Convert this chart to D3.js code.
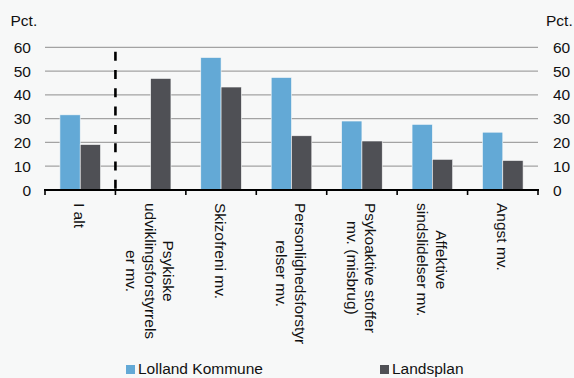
<!DOCTYPE html>
<html><head><meta charset="utf-8">
<script src="https://cdn.jsdelivr.net/npm/d3@7"></script>
<style>
html,body{margin:0;padding:0;background:#F7F8F8;}
svg{display:block;font-family:"Liberation Sans",Arial,sans-serif;}
</style></head>
<body>
<svg id="c" width="574" height="378"></svg>
<script>
const categories = [
  ["I alt"],
  ["Psykiske","udviklingsforstyrrels","er mv."],
  ["Skizofreni mv."],
  ["Personlighedsforstyr","relser mv."],
  ["Psykoaktive stoffer","mv. (misbrug)"],
  ["Affektive","sindslidelser mv."],
  ["Angst mv."]
];
const lolland = [31.6, null, 55.7, 47.3, 29.0, 27.6, 24.3];
const landsplan = [19.1, 46.9, 43.3, 22.8, 20.6, 12.9, 12.4];
const yTicks = [0, 10, 20, 30, 40, 50, 60];
const seriesNames = ["Lolland Kommune", "Landsplan"];
const colors = ["#63A9D6", "#4F5055"];

const svg = d3.select("#c");
svg.append("rect").attr("width",574).attr("height",378).attr("fill","#F7F8F8");
const L = 45, R = 538, T = 47.3, B = 190;
const fs = 15.5;
const y = d3.scaleLinear().domain([0,60]).range([B,T]);
const x = d3.scaleBand().domain(d3.range(categories.length)).range([L,R]).padding(0);
const bw = 20.3;

// gridlines
svg.append("g").selectAll("line").data(yTicks.filter(d=>d>0)).join("line")
  .attr("x1",L).attr("x2",R).attr("y1",d=>y(d)).attr("y2",d=>y(d))
  .attr("stroke","#A3A3A3").attr("stroke-width",1.2);

// bars
const series = [lolland, landsplan];
series.forEach((vals,si)=>{
  svg.append("g").selectAll("rect").data(vals.map((v,i)=>({v,i})).filter(d=>d.v!=null)).join("rect")
    .attr("x",d=>x(d.i)+x.bandwidth()/2 + (si===0?-bw:0))
    .attr("width",bw)
    .attr("y",d=>y(d.v))
    .attr("height",d=>y(0)-y(d.v))
    .attr("fill",colors[si])
    .attr("stroke","#F7F8F8").attr("stroke-width",0.6);
});

// dashed separator
svg.append("line").attr("x1",x(1)).attr("x2",x(1)).attr("y1",51.7).attr("y2",B)
  .attr("stroke","#000").attr("stroke-width",2.6).attr("stroke-dasharray","9,9.3");

// x axis
const xAxisG = svg.append("g").attr("transform",`translate(0,${B})`);
xAxisG.append("line").attr("x1",L-1).attr("x2",R+1).attr("stroke","#000").attr("stroke-width",2);
const tickPos = d3.range(categories.length+1).map(i=> i<categories.length ? x(i) : R);
xAxisG.selectAll("line.t").data(tickPos).join("line").attr("class","t")
  .attr("x1",d=>d).attr("x2",d=>d).attr("y1",0).attr("y2",5)
  .attr("stroke","#000").attr("stroke-width",1.6);

// y tick labels
svg.append("g").selectAll("text").data(yTicks).join("text")
  .attr("x",31).attr("y",d=>y(d)).attr("text-anchor","end").attr("dominant-baseline","central")
  .attr("font-size",fs).attr("fill","#111").text(d=>d);
svg.append("g").selectAll("text").data(yTicks).join("text")
  .attr("x",553).attr("y",d=>y(d)).attr("text-anchor","start").attr("dominant-baseline","central")
  .attr("font-size",fs).attr("fill","#111").text(d=>d);
svg.append("text").attr("x",10.5).attr("y",26).attr("font-size",fs).attr("fill","#111").text("Pct.");
svg.append("text").attr("x",546).attr("y",26).attr("font-size",fs).attr("fill","#111").text("Pct.");

// category labels (rotated 90deg clockwise)
const lh = 18.7;
categories.forEach((lines,i)=>{
  const cx = x(i)+x.bandwidth()/2;
  const g = svg.append("g").attr("transform",`translate(${cx},203) rotate(90)`);
  const n = lines.length;
  const texts = lines.map((ln,j)=> g.append("text")
      .attr("y",(j-(n-1)/2)*lh + 0.5)
      .attr("dominant-baseline","central")
      .attr("font-size",fs).attr("fill","#111").text(ln));
  const maxW = d3.max(texts,t=>t.node().getComputedTextLength());
  texts.forEach(t=>t.attr("x",maxW/2).attr("text-anchor","middle"));
});

// legend
const leg = [{x:126, tx:138},{x:380, tx:392}];
leg.forEach((p,i)=>{
  svg.append("rect").attr("x",p.x).attr("y",365).attr("width",9).attr("height",9).attr("fill",colors[i]);
  svg.append("text").attr("x",p.tx).attr("y",374.3).attr("font-size",fs).attr("fill","#111").text(seriesNames[i]);
});
</script>
</body></html>
